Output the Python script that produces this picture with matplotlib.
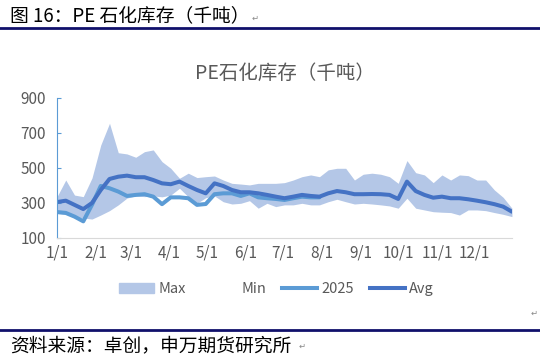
import matplotlib.pyplot as plt
from matplotlib.patches import Patch
from matplotlib.lines import Line2D
import numpy as np

plt.rcParams['font.family'] = ['Noto Sans CJK SC', 'DejaVu Sans']

# weekly data, 53 points starting 1/1
max_vals = [336, 431, 345, 336, 443, 631, 755, 587, 580, 561, 593, 603, 536, 498, 441,
            470, 445, 450, 454, 431, 412, 408, 403, 412, 412, 412, 416, 431, 450, 460,
            450, 489, 498, 498, 431, 464, 470, 464, 450, 412, 542, 473, 460, 416, 460,
            431, 460, 456, 431, 431, 374, 332, 270]
min_vals = [240, 235, 222, 214, 208, 231, 256, 289, 328, 340, 336, 340, 335, 345, 384,
            335, 298, 330, 340, 307, 294, 298, 313, 270, 298, 279, 289, 289, 298, 289,
            289, 307, 321, 307, 294, 298, 294, 289, 283, 270, 327, 270, 260, 250, 247,
            245, 231, 260, 260, 256, 245, 235, 222]
avg_vals = [305, 313, 289, 265, 300, 374, 437, 450, 456, 447, 447, 431, 412, 407, 422,
            397, 374, 355, 412, 397, 374, 361, 361, 355, 346, 336, 327, 336, 346, 340,
            336, 355, 368, 361, 350, 350, 351, 350, 346, 323, 422, 368, 346, 330, 336,
            327, 327, 321, 313, 304, 293, 279, 250]
y2025 = [248, 243, 222, 195, 290, 397, 384, 365, 340, 346, 350, 336, 293, 332, 332,
         327, 289, 294, 350, 355, 355, 340, 355, 332, 327, 323, 317, 327, 336, 332, 332]
month_labels = ['1/1', '2/1', '3/1', '4/1', '5/1', '6/1', '7/1', '8/1', '9/1', '10/1', '11/1', '12/1']
month_days = [0, 31, 59, 90, 120, 151, 181, 212, 243, 273, 304, 334]

days = np.arange(len(max_vals)) * 7
days25 = np.arange(len(y2025)) * 7

fig = plt.figure(figsize=(5.4, 3.6), dpi=100)
navy = '#10106b'
gray = '#595959'

# report frame text
fig.text(0.018, 0.955, '图 16：PE 石化库存（千吨）', fontsize=13.5, color='black', va='center')
fig.text(0.466, 0.950, '↵', fontsize=6, color='#888888', va='center')
fig.add_artist(Line2D([0, 1], [0.921, 0.921], color=navy, lw=2))
fig.add_artist(Line2D([0, 1], [0.083, 0.083], color=navy, lw=2))
fig.text(0.018, 0.040, '资料来源：卓创，申万期货研究所', fontsize=13.5, color='black', va='center')
fig.text(0.552, 0.038, '↵', fontsize=6, color='#888888', va='center')
fig.text(0.982, 0.131, '↵', fontsize=6, color='#888888', va='center')

ax = fig.add_axes([0.1056, 0.339, 0.8424, 0.389])
ax.fill_between(days, min_vals, max_vals, color='#b4c7e7', lw=0)
ax.plot(days25, y2025, color='#5b9bd5', lw=2.9, solid_capstyle='round', solid_joinstyle='round')
ax.plot(days, avg_vals, color='#4472c4', lw=2.9, solid_capstyle='round', solid_joinstyle='round')

ax.set_xlim(0, 364)
ax.set_ylim(100, 900)
ax.set_yticks([100, 300, 500, 700, 900])
ax.set_xticks(month_days)
ax.set_xticklabels(month_labels)
ax.tick_params(axis='y', direction='in', length=3, color='#5b9bd5', labelsize=11, labelcolor=gray, pad=8)
ax.tick_params(axis='x', length=0, labelsize=11, labelcolor=gray, pad=5)
for s in ['top', 'right']:
    ax.spines[s].set_visible(False)
ax.spines['left'].set_color('#5b9bd5')
ax.spines['bottom'].set_color('#d9d9d9')

ax.set_title('PE石化库存（千吨）', fontsize=14, color=gray, pad=14)

handles = [Patch(color='#b4c7e7'), Patch(color='white'),
           Line2D([0], [0], color='#5b9bd5', lw=2.9),
           Line2D([0], [0], color='#4472c4', lw=2.9)]
fig.legend(handles, ['Max', 'Min', '2025', 'Avg'], loc='center', bbox_to_anchor=(0.512, 0.197),
           ncol=4, frameon=False, fontsize=10.5, labelcolor=gray, handlelength=2.4,
           handletextpad=0.3, columnspacing=1.1, handleheight=0.6)

fig.savefig('out.png', dpi=100)
